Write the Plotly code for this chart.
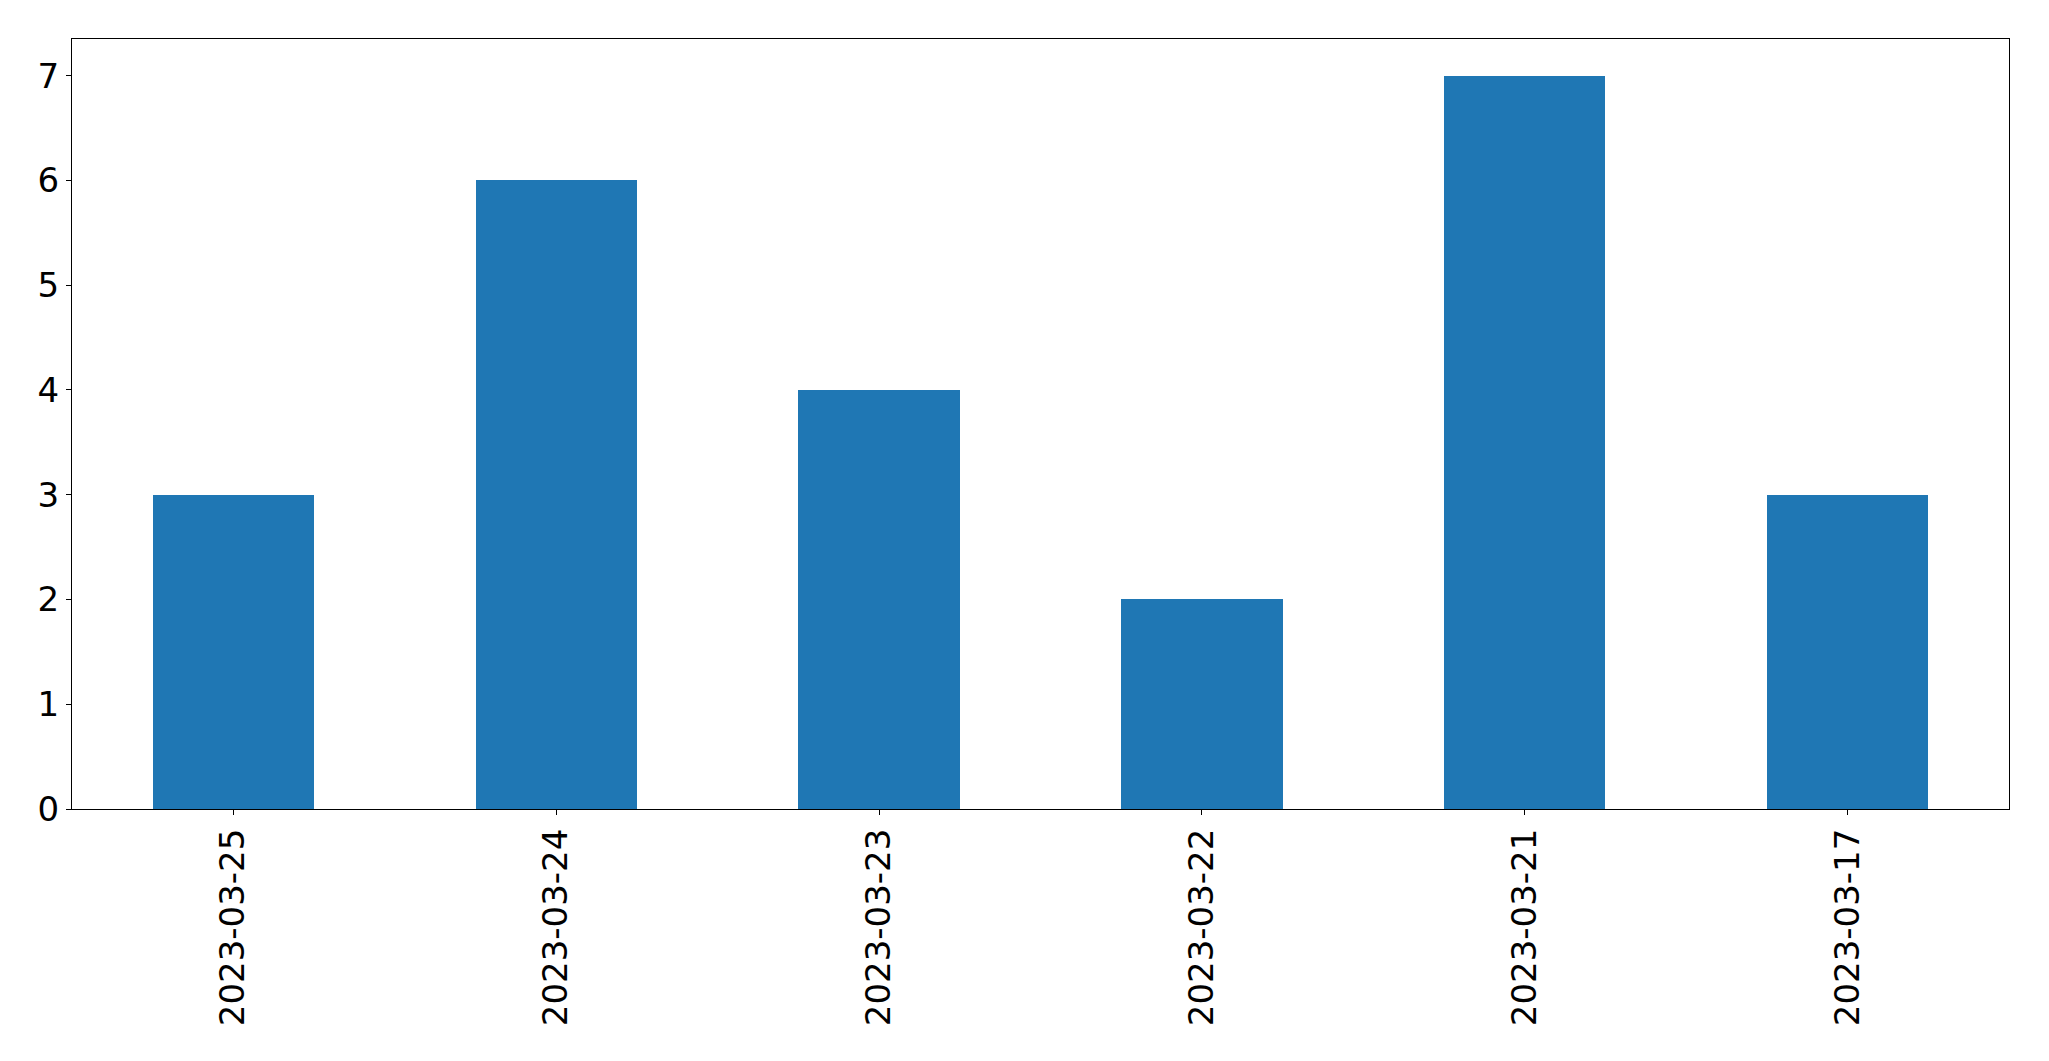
import plotly.graph_objects as go

categories = ["2023-03-25", "2023-03-24", "2023-03-23", "2023-03-22", "2023-03-21", "2023-03-17"]
values = [3, 6, 4, 2, 7, 3]
y_ticks = [0, 1, 2, 3, 4, 5, 6, 7]

fig = go.Figure(
    go.Bar(x=categories, y=values, width=0.5, marker=dict(color="#1f77b4", line=dict(width=0)))
)

axis_common = dict(
    showline=True, linecolor="black", linewidth=1.1, mirror=True,
    ticks="outside", ticklen=5, tickwidth=1.1, tickcolor="black",
    showgrid=False, zeroline=False, automargin=False,
    tickfont=dict(family="DejaVu Sans", size=34, color="black"),
)

# page body has an 8px default margin, so the figure is offset by 8px
fig.update_layout(
    width=2033, height=1045,
    margin=dict(l=64, r=32, t=31, b=244),
    plot_bgcolor="white", paper_bgcolor="white",
    showlegend=False,
    bargap=0,
    xaxis=dict(type="category", range=[-0.5, 5.5], tickangle=-90, **axis_common),
    yaxis=dict(range=[0, 7.35], tickvals=y_ticks, ticktext=[str(v) for v in y_ticks], **axis_common),
)

fig.write_html("out.html")
